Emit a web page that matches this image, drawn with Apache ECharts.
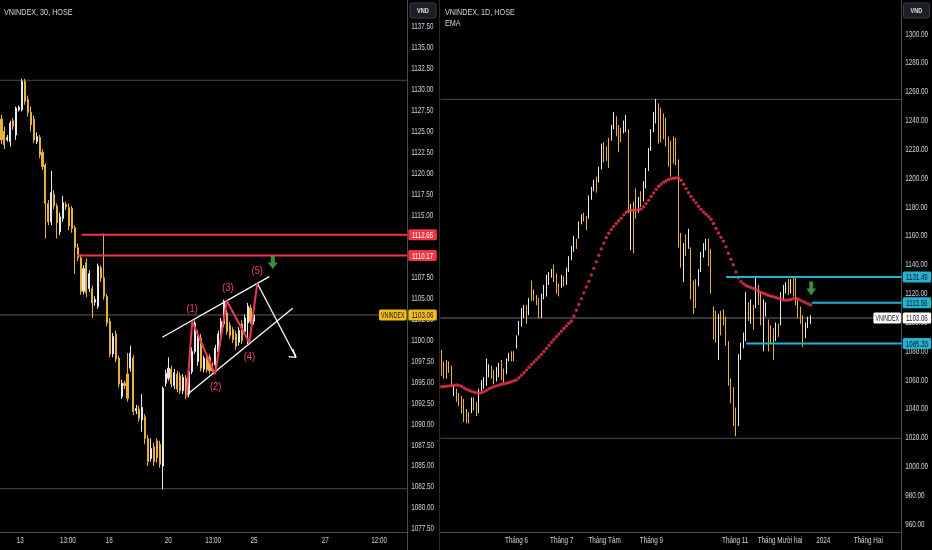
<!DOCTYPE html>
<html><head><meta charset="utf-8">
<script src="https://cdn.jsdelivr.net/npm/echarts/dist/echarts.min.js"></script>
<style>html,body{margin:0;padding:0;background:#000;}#c{width:932px;height:550px;}</style>
</head><body><div id="c"></div>
<script>
// ---------------- DATA ----------------
// Left panel: VNINDEX 30-minute candles [open, close, low, high]
const leftCandles = [
[1126.5,1124.0,1123.5,1127.0],[1125.0,1123.4,1122.9,1125.6],[1124.0,1124.3,1123.8,1124.6],[1123.8,1126.0,1123.2,1126.3],
[1126.3,1125.7,1125.2,1126.6],[1124.6,1127.8,1124.0,1128.0],[1127.6,1127.9,1127.4,1128.1],[1127.6,1131.0,1127.4,1131.3],
[1131.0,1128.6,1128.2,1131.3],[1128.8,1127.3,1126.8,1129.3],[1127.3,1125.8,1125.0,1128.0],[1126.5,1124.0,1123.6,1126.9],
[1123.8,1124.4,1123.5,1124.9],[1124.3,1122.2,1121.8,1124.6],[1122.5,1120.8,1120.4,1122.9],[1121.0,1116.4,1112.2,1121.2],
[1116.4,1114.2,1113.8,1116.8],[1114.2,1117.7,1113.8,1120.3],[1117.5,1116.1,1115.7,1118.0],[1116.1,1114.1,1112.2,1116.4],
[1113.0,1114.8,1112.6,1115.3],[1114.6,1116.5,1114.2,1117.3],[1116.3,1116.0,1115.6,1116.6],[1115.9,1113.7,1113.2,1116.4],
[1115.8,1113.4,1112.9,1116.1],[1113.5,1111.1,1108.0,1113.8],[1111.1,1109.9,1109.5,1111.6],[1109.9,1105.9,1105.5,1110.3],
[1105.9,1108.6,1105.5,1109.0],[1109.3,1105.7,1105.2,1109.8],[1106.2,1108.0,1105.8,1108.4],[1106.2,1104.5,1102.7,1106.6],
[1104.6,1104.9,1104.2,1105.3],[1104.1,1108.9,1103.8,1109.2],[1108.7,1107.5,1107.0,1109.0],[1107.5,1105.3,1104.9,1112.8],
[1105.3,1102.1,1101.7,1105.6],[1102.3,1098.4,1098.0,1102.7],[1098.4,1100.5,1098.0,1100.9],[1100.8,1097.8,1097.4,1101.2],
[1097.9,1094.8,1094.4,1098.2],[1093.3,1094.9,1093.0,1095.3],[1094.9,1094.6,1094.2,1095.2],[1096.0,1093.1,1092.7,1098.5],
[1096.7,1098.5,1096.3,1099.4],[1097.9,1091.5,1091.1,1098.3],[1091.6,1091.9,1091.2,1092.3],[1091.8,1090.7,1090.3,1092.2],
[1090.5,1092.0,1089.1,1093.6],[1090.9,1088.3,1087.6,1091.2],[1088.3,1085.5,1085.0,1088.7],[1085.9,1087.1,1085.5,1088.3],
[1087.3,1085.5,1085.0,1087.8],[1088.0,1086.0,1085.4,1088.3],[1087.6,1085.2,1084.8,1088.0],[1085.0,1094.3,1082.2,1094.5],
[1094.9,1096.1,1094.5,1096.5],[1095.5,1096.7,1095.2,1098.0],[1096.6,1094.8,1094.4,1097.0],[1094.6,1096.2,1094.2,1096.6],
[1096.0,1094.2,1093.8,1096.4],[1095.8,1094.0,1093.6,1096.2],[1094.0,1095.6,1093.6,1096.0],[1095.5,1093.6,1093.0,1095.9],
[1093.6,1096.3,1093.2,1097.0],[1096.3,1098.7,1096.0,1099.2],[1098.7,1102.1,1098.4,1102.4],[1097.5,1100.3,1097.0,1101.2],
[1100.3,1096.7,1096.3,1100.8],[1096.6,1097.9,1096.2,1098.2],[1098.0,1096.5,1096.2,1098.4],[1098.0,1096.4,1096.0,1098.4],
[1097.0,1096.4,1096.2,1097.4],[1097.1,1099.1,1096.7,1099.5],[1098.7,1100.8,1098.3,1101.2],[1100.3,1102.3,1100.0,1102.7],
[1102.0,1104.7,1101.6,1104.9],[1103.3,1101.1,1100.7,1103.7],[1101.8,1100.6,1100.2,1102.2],[1101.3,1100.1,1099.7,1101.6],
[1100.8,1099.3,1098.9,1101.2],[1099.8,1101.2,1099.4,1101.6],[1102.0,1100.0,1099.6,1102.4],[1101.1,1102.7,1100.7,1103.1],
[1102.1,1104.1,1099.6,1104.5],[1103.9,1102.3,1102.0,1104.3],[1102.3,1103.06,1101.9,1103.5]
];
const leftSlotCount = 139;
const leftTimeTicks = [6.43, 22.7, 36.8, 56.9, 72.2, 86.2, 110.5, 128.9];
const leftTimeLabels = ['13', '13:00', '18', '20', '13:00', '25', '27', '12:00'];
const leftPriceTicks = [1077.5,1080,1082.5,1085,1087.5,1090,1092.5,1095,1097.5,1100,1102.5,1105,1107.5,1110,1112.5,1115,1117.5,1120,1122.5,1125,1127.5,1130,1132.5,1135,1137.5];
const leftRedLevels = [[1112.65, 27.4], [1110.17, 25.7]];          // [price, start slot]
const leftGreyLevels = [1131.13, 1082.29];
const lastPrice = 1103.06;
const leftUpperTrend = [[54.9, 1100.39], [91.4, 1107.64]];
const leftLowerTrend = [[63.2, 1093.49], [99.4, 1103.86]];
const leftWave = [[63.2,1093.29],[65.1,1102.26],[72.9,1095.99],[76.9,1104.77],[84.6,1099.75],[87.3,1106.85]];
const leftWaveLabels = ['(1)','(2)','(3)','(4)','(5)'];
const leftWaveLabelPos = [[65.1,1103.74],[73.1,1094.41],[77.3,1106.32],[84.6,1098.0],[87.3,1108.36]];
const leftArrowShaft = [[87.3,1106.85],[100.5,1098.0]];
const leftArrowHead = [[98.0,1098.07],[100.5,1098.0],[99.4,1099.0]];
const leftGreenArrow = [[92.6,1109.34]];

// Right panel: VNINDEX daily candles [open, close, low, high]
const rightCandles = [
[1074,1066,1063,1081],[1070,1064,1061,1073],[1073,1063,1061,1074],[1072,1067,1065,1073],[1069,1058,1056,1070],
[1051,1055,1049,1056],[1053,1047,1045,1054],[1050,1044,1042,1051],[1048,1039,1037,1049],[1046,1036,1031,1047],
[1039,1033,1030,1040],[1036,1033,1030,1038],[1039,1047,1037,1048],[1047,1041,1039,1048],[1044,1037,1035,1045],
[1039,1053,1037,1054],[1053,1059,1052,1060],[1056,1061,1054,1062],[1057,1067,1056,1075],[1063,1069,1062,1071],
[1069,1063,1061,1070],[1066,1058,1057,1067],[1061,1067,1059,1069],[1063,1070,1062,1072],[1073,1062,1060,1074],
[1067,1060,1058,1068],[1065,1074,1064,1075],[1074,1078,1073,1079],[1078,1074,1073,1080],[1078,1075,1073,1080],
[1083,1090,1082,1091],[1092,1100,1091,1101],[1098,1109,1097,1110],[1104,1111,1103,1112],[1111,1100,1099,1112],
[1106,1116,1105,1117],[1122,1116,1115,1129],[1121,1117,1115,1123],[1118,1114,1112,1119],[1115,1105,1103,1117],
[1104,1118,1103,1120],[1117,1124,1116,1126],[1120,1132,1118,1133],[1127,1134,1126,1135],[1132,1136,1131,1137],
[1137,1130,1128,1140],[1132,1122,1120,1134],[1126,1120,1118,1127],[1125,1132,1124,1133],[1131,1127,1125,1132],
[1127,1137,1126,1138],[1136,1144,1135,1146],[1144,1152,1143,1153],[1150,1159,1149,1160],[1157,1152,1151,1158],
[1159,1169,1158,1170],[1169,1174,1168,1175],[1174,1172,1170,1176],[1173,1166,1164,1174],[1173,1187,1172,1188],
[1186,1193,1185,1194],[1192,1198,1191,1199],[1200,1192,1190,1201],[1198,1207,1197,1208],[1207,1223,1206,1224],
[1223,1213,1211,1225],[1220,1215,1212,1222],[1227,1209,1207,1228],[1227,1236,1226,1237],[1235,1242,1234,1246],
[1242,1231,1229,1243],[1236,1220,1218,1237],[1233,1227,1225,1235],[1232,1239,1231,1240],[1233,1243,1232,1244],
[1233,1178,1176,1234],[1173,1180,1150,1182],[1182,1172,1148,1184],[1192,1175,1172,1193],[1178,1185,1176,1187],
[1189,1183,1180,1191],[1185,1196,1184,1198],[1194,1206,1193,1207],[1206,1220,1205,1221],[1220,1233,1219,1234],
[1233,1245,1232,1246],[1240,1252,1238,1255],[1247,1230,1224,1252],[1245,1228,1225,1249],[1243,1232,1227,1245],
[1240,1226,1222,1242],[1227,1210,1208,1229],[1224,1206,1201,1226],[1227,1212,1210,1229],[1226,1211,1209,1228],
[1212,1155,1152,1213],[1160,1141,1138,1162],[1138,1153,1128,1155],[1159,1148,1146,1161],[1153,1160,1151,1165],
[1150,1118,1116,1152],[1127,1113,1106,1129],[1129,1114,1110,1130],[1127,1136,1125,1137],[1136,1148,1135,1149],
[1146,1153,1145,1155],[1152,1156,1150,1158],[1157,1141,1139,1158],[1150,1122,1120,1151],[1109,1090,1088,1111],
[1106,1088,1086,1108],[1095,1104,1074,1106],[1106,1093,1091,1108],[1107,1100,1098,1109],[1102,1086,1084,1104],
[1085,1058,1056,1087],[1060,1046,1044,1061],[1053,1030,1028,1055],[1039,1027,1021,1041],[1030,1076,1028,1078],
[1076,1084,1074,1086],[1084,1091,1082,1093],[1089,1112,1087,1121],[1112,1103,1101,1114],[1100,1114,1099,1116],
[1110,1097,1095,1112],[1112,1127,1110,1132],[1124,1114,1112,1126],[1119,1100,1098,1121],[1100,1114,1080,1116],
[1106,1112,1104,1114],[1100,1087,1080,1102],[1096,1087,1085,1098],[1094,1087,1074,1096],[1089,1098,1087,1100],
[1097,1092,1090,1099],[1100,1119,1098,1121],[1117,1124,1116,1126],[1121,1126,1120,1128],[1126,1121,1119,1130],
[1122,1127,1120,1130],[1127,1120,1118,1131],[1128,1114,1112,1131],[1114,1105,1103,1116],[1109,1101,1099,1111],
[1103,1091,1083,1105],[1091,1098,1089,1100],[1097,1102,1096,1104],[1100,1103.06,1099,1105]
];
const rightEma = [
1055.4,1055.6,1055.8,1056.0,1056.2,1056.4,1056.6,1056.3,1055.6,1054.6,
1053.6,1052.8,1052.2,1051.6,1051.2,1050.9,1051.3,1052.0,1053.0,1054.0,
1054.8,1055.4,1056.0,1056.6,1057.1,1057.5,1057.8,1058.3,1058.9,1059.5,
1060.1,1061.6,1063.3,1065.1,1067.0,1068.9,1070.8,1072.6,1074.3,1076.0,
1077.8,1079.8,1081.9,1084.1,1086.2,1088.2,1090.1,1092.0,1093.9,1095.8,
1097.6,1099.4,1101.0,1104.5,1108.5,1112.5,1116.5,1120.5,1124.5,1128.5,
1133.0,1137.5,1142.0,1146.5,1151.0,1155.0,1158.8,1161.8,1164.4,1166.6,
1168.6,1170.5,1172.3,1174.6,1176.4,1177.4,1177.8,1177.9,1178.0,1178.1,
1178.6,1180.2,1182.4,1184.8,1187.3,1189.8,1192.3,1194.4,1196.0,1197.3,
1198.3,1199.1,1199.6,1200.0,1200.2,1200.0,1198.6,1195.8,1192.8,1190.0,
1187.4,1185.0,1183.0,1180.6,1178.4,1176.6,1175.0,1173.4,1171.6,1168.6,
1165.2,1162.0,1159.0,1156.4,1152.4,1148.0,1143.8,1140.0,1135.0,1131.0,
1128.3,1126.8,1125.6,1124.8,1124.2,1123.6,1122.8,1121.8,1121.0,1120.2,
1119.5,1118.8,1118.2,1117.8,1117.3,1116.8,1116.2,1115.6,1115.4,1115.5,
1115.9,1116.4,1116.7,1116.2,1115.3,1114.4,1113.6,1112.8,1112.1
];
const rightSlotCount = 185;
const rightTimeTicks = [30.0, 48.1, 65.3, 84.1, 117.7, 135.7, 153.0, 171.1];
const rightTimeLabels = ['Tháng 6', 'Tháng 7', 'Tháng Tám', 'Tháng 9', 'Tháng 11', 'Tháng Mười hai', '2024', 'Tháng Hai'];
const rightPriceTicks = [960,980,1000,1020,1040,1060,1080,1100,1120,1140,1160,1180,1200,1220,1240,1260,1280,1300];
const rightCyanLevels = [[1131.49, 114.1], [1113.56, 148.4], [1085.33, 122.1]]; // [price, start slot]
const rightGreyLevels = [1254.7, 1019.6];
const rightGreenArrow = [[148.2, 1123.5]];

// ---------------- STYLE ----------------
const FONT = "'Liberation Sans',Arial,sans-serif";
const TXT = '#d1d4dc';
const UP = '#e9e9e9', DOWN = '#e6b23b';
const RED = '#f23645', CYAN = '#22b3d2', GOLD = '#f2bc1c';
const SX = 0.7; // horizontal squeeze of the platform's narrow UI font

function seg(pts, color, width, xi, yi, z) {
  return { type: 'line', xAxisIndex: xi, yAxisIndex: yi, data: pts, symbol: 'none', silent: true,
    animation: false, clip: false, lineStyle: { color: color, width: width }, z: z || 4 };
}
function hline(price, from, to, color, width, xi, yi, z) {
  return seg([[from, price], [to, price]], color, width, xi, yi, z);
}
// text placed through the axes' own scales
function textSeries(points, texts, xi, yi, st) {
  return {
    type: 'custom', xAxisIndex: xi, yAxisIndex: yi, clip: false, silent: true, z: st.z || 15, animation: false,
    data: points,
    renderItem: function (params, api) {
      const p = api.coord([api.value(0), api.value(1)]);
      const cs = params.coordSys;
      let x = p[0], y = p[1];
      if (st.anchor === 'right') x = cs.x + cs.width + st.dx;
      if (st.anchor === 'bottom') y = cs.y + cs.height + st.dy;
      return { type: 'text', x: x, y: y, scaleX: st.sx, scaleY: 1,
        style: { text: texts[params.dataIndex], fill: st.fill, align: st.align, verticalAlign: 'middle', font: st.font } };
    }
  };
}
function tagSeries(tags, xi, yi) {
  return {
    type: 'custom', xAxisIndex: xi, yAxisIndex: yi, clip: false, silent: true, z: 20, animation: false,
    data: tags.map(t => [0, t.price]),
    renderItem: function (params, api) {
      const t = tags[params.dataIndex];
      const y = api.coord([0, api.value(1)])[1];
      const cs = params.coordSys;
      const x0 = cs.x + cs.width;
      const ch = [];
      ch.push({ type: 'rect', shape: { x: x0 + 1, y: y - 5.5, width: 28.5, height: 11, r: 1.5 }, style: { fill: t.bg } });
      ch.push({ type: 'text', x: x0 + 15.2, y: y + 0.5, scaleX: 0.68,
        style: { text: t.price.toFixed(2), fill: t.fg, align: 'center', verticalAlign: 'middle', font: '9px ' + FONT } });
      if (t.name) {
        ch.push({ type: 'rect', shape: { x: x0 - 28.3, y: y - 5.5, width: 27.6, height: 11, r: 1.5 }, style: { fill: t.bg } });
        ch.push({ type: 'text', x: x0 - 14.5, y: y + 0.5, scaleX: 0.62,
          style: { text: t.name, fill: t.fg, align: 'center', verticalAlign: 'middle', font: '8.5px ' + FONT } });
      }
      return { type: 'group', children: ch };
    }
  };
}

const LMAX = leftSlotCount - 0.5, RMAX = rightSlotCount - 0.5;
const series = [];
// ---- left panel ----
leftGreyLevels.forEach(p => series.push(hline(p, -0.5, LMAX, '#4a4a4a', 1, 1, 0, 1)));
series.push(hline(lastPrice, -0.5, LMAX, '#6b6136', 1, 1, 0, 1));
series.push({
  type: 'candlestick', xAxisIndex: 0, yAxisIndex: 0, data: leftCandles, barWidth: 1.6, z: 2, animation: false,
  itemStyle: { color: UP, color0: DOWN, borderColor: UP, borderColor0: DOWN, borderWidth: 1 }
});
leftRedLevels.forEach(l => series.push(hline(l[0], l[1], LMAX, RED, 2, 1, 0, 5)));
series.push(seg(leftUpperTrend, '#ffffff', 1.3, 1, 0, 6));
series.push(seg(leftLowerTrend, '#ffffff', 1.3, 1, 0, 6));
series.push(seg(leftWave, '#e8395a', 2, 1, 0, 7));
series.push(seg(leftArrowShaft, '#ffffff', 1.3, 1, 0, 6));
series.push(seg(leftArrowHead, '#ffffff', 1.3, 1, 0, 6));
series.push(textSeries(leftWaveLabelPos, leftWaveLabels, 1, 0,
  { fill: '#ec4a66', align: 'center', sx: 0.85, font: '11px ' + FONT, z: 8 }));
series.push({
  type: 'scatter', xAxisIndex: 1, yAxisIndex: 0, data: leftGreenArrow, silent: true, z: 8, animation: false,
  symbol: 'path://M3,0L7,0L7,6L10,6L5,12L0,6L3,6Z', symbolSize: [10, 13], itemStyle: { color: '#4caf50' }
});
series.push(textSeries(leftPriceTicks.map(v => [0, v]), leftPriceTicks.map(v => v.toFixed(2)), 1, 0,
  { anchor: 'right', dx: 4, fill: TXT, align: 'left', sx: SX, font: '9px ' + FONT }));
series.push(textSeries(leftTimeTicks.map(v => [v, 1077.5]), leftTimeLabels, 1, 0,
  { anchor: 'bottom', dy: 11.8, fill: TXT, align: 'center', sx: SX, font: '9px ' + FONT }));
series.push(tagSeries([
  { price: leftRedLevels[0][0], bg: RED, fg: '#ffffff' },
  { price: leftRedLevels[1][0], bg: RED, fg: '#ffffff' },
  { price: lastPrice, bg: GOLD, fg: '#1a1a1a', name: 'VNINDEX' }
], 1, 0));

// ---- right panel ----
rightGreyLevels.forEach(p => series.push(hline(p, -0.5, RMAX, '#4a4a4a', 1, 3, 1, 1)));
series.push(hline(lastPrice, -0.5, RMAX, '#6e6e6e', 1, 3, 1, 1));
series.push({
  type: 'candlestick', xAxisIndex: 2, yAxisIndex: 1, data: rightCandles, barWidth: 1.3, z: 2, animation: false,
  itemStyle: { color: UP, color0: DOWN, borderColor: UP, borderColor0: DOWN, borderWidth: 1 }
});
series.push({
  type: 'scatter', xAxisIndex: 2, yAxisIndex: 1, data: rightEma, symbolSize: 3.4, silent: true, z: 3, animation: false,
  itemStyle: { color: '#f0364f' }
});
rightCyanLevels.forEach(l => series.push(hline(l[0], l[1], RMAX, CYAN, 2, 3, 1, 5)));
series.push({
  type: 'scatter', xAxisIndex: 3, yAxisIndex: 1, data: rightGreenArrow, silent: true, z: 8, animation: false,
  symbol: 'path://M3,0L7,0L7,6L10,6L5,12L0,6L3,6Z', symbolSize: [10, 14], itemStyle: { color: '#4caf50' }
});
series.push(textSeries(rightPriceTicks.map(v => [0, v]), rightPriceTicks.map(v => v.toFixed(2)), 3, 1,
  { anchor: 'right', dx: 3.5, fill: TXT, align: 'left', sx: SX, font: '9px ' + FONT }));
series.push(textSeries(rightTimeTicks.map(v => [v, 960]), rightTimeLabels, 3, 1,
  { anchor: 'bottom', dy: 16.2, fill: TXT, align: 'center', sx: SX, font: '9px ' + FONT }));
series.push(tagSeries([
  { price: rightCyanLevels[0][0], bg: CYAN, fg: '#10161f' },
  { price: rightCyanLevels[1][0], bg: CYAN, fg: '#10161f' },
  { price: rightCyanLevels[2][0], bg: CYAN, fg: '#10161f' },
  { price: lastPrice, bg: '#ffffff', fg: '#1a1a1a', name: 'VNINDEX' }
], 3, 1));

const chart = echarts.init(document.getElementById('c'), null, { renderer: 'canvas' });
chart.setOption({
  backgroundColor: '#000000',
  animation: false,
  grid: [
    { left: 0, right: 524.7, top: 0, bottom: 21.3, outerBoundsMode: 'none' },
    { left: 440.5, right: 30.3, top: 0, bottom: 25.7, outerBoundsMode: 'none' }
  ],
  xAxis: [
    { type: 'category', gridIndex: 0, data: Array.from({ length: leftSlotCount }, (_, i) => i), offset: 3.3,
      axisLine: { lineStyle: { color: '#4b4b4b' } }, axisTick: { show: false }, splitLine: { show: false }, axisLabel: { show: false } },
    { type: 'value', gridIndex: 0, min: -0.5, max: LMAX, show: false },
    { type: 'category', gridIndex: 1, data: Array.from({ length: rightSlotCount }, (_, i) => i), offset: 7.7,
      axisLine: { lineStyle: { color: '#4b4b4b' } }, axisTick: { show: false }, splitLine: { show: false }, axisLabel: { show: false } },
    { type: 'value', gridIndex: 1, min: -0.5, max: RMAX, show: false }
  ],
  yAxis: [
    { type: 'value', gridIndex: 0, position: 'right', min: 1077.5, max: 1140.73, interval: 2.5, scale: true,
      axisLine: { show: false }, axisTick: { show: false }, splitLine: { show: false }, axisLabel: { show: false } },
    { type: 'value', gridIndex: 1, position: 'right', min: 960, max: 1323.6, interval: 20, scale: true,
      axisLine: { show: false }, axisTick: { show: false }, splitLine: { show: false }, axisLabel: { show: false } }
  ],
  graphic: [
    { type: 'line', shape: { x1: 407.5, y1: 0, x2: 407.5, y2: 550 }, style: { stroke: '#4b4b4b', lineWidth: 1 }, z: 1 },
    { type: 'line', shape: { x1: 439.5, y1: 0, x2: 439.5, y2: 550 }, style: { stroke: '#2a2a2a', lineWidth: 1 }, z: 1 },
    { type: 'line', shape: { x1: 901.5, y1: 0, x2: 901.5, y2: 550 }, style: { stroke: '#4b4b4b', lineWidth: 1 }, z: 1 },
    { type: 'text', x: 4, y: 7, scaleX: 0.76, style: { text: 'VNINDEX, 30, HOSE', fill: TXT, font: '9.5px ' + FONT } },
    { type: 'text', x: 445, y: 7, scaleX: 0.76, style: { text: 'VNINDEX, 1D, HOSE', fill: TXT, font: '9.5px ' + FONT } },
    { type: 'text', x: 445, y: 18, scaleX: 0.76, style: { text: 'EMA', fill: TXT, font: '9.5px ' + FONT } },
    { type: 'rect', shape: { x: 410, y: 3, width: 26, height: 15, r: 2 }, style: { fill: '#1b1e25', stroke: '#3a3d45' } },
    { type: 'text', x: 423, y: 11, scaleX: 0.7, style: { text: 'VND', fill: '#e0e0e0', font: 'bold 8px ' + FONT, align: 'center', verticalAlign: 'middle' } },
    { type: 'rect', shape: { x: 903.5, y: 3, width: 26, height: 15, r: 2 }, style: { fill: '#1b1e25', stroke: '#3a3d45' } },
    { type: 'text', x: 916.5, y: 11, scaleX: 0.7, style: { text: 'VND', fill: '#e0e0e0', font: 'bold 8px ' + FONT, align: 'center', verticalAlign: 'middle' } }
  ],
  series: series
});
</script></body></html>
